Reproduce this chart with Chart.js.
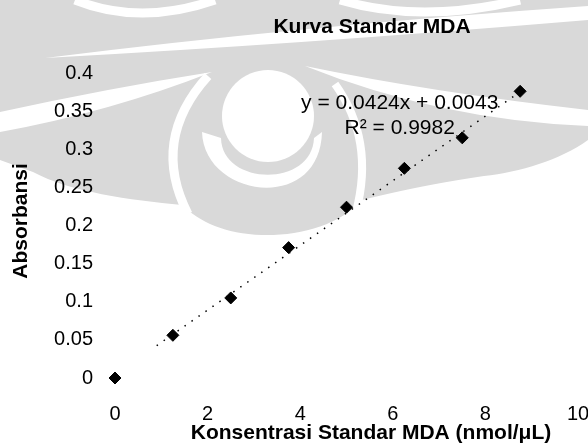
<!DOCTYPE html>
<html>
<head>
<meta charset="utf-8">
<script src="https://cdn.jsdelivr.net/npm/chart.js@4"></script>
<style>
  html, body { margin: 0; padding: 0; background: #fff; }
  #wrap { width: 588px; height: 446px; position: relative; }
</style>
</head>
<body>
<div id="wrap"><canvas id="grafik"></canvas></div>
<script>
  // data kurva standar
  const konsentrasi = [0, 1.25, 2.5, 3.75, 5, 6.25, 7.5, 8.75];
  const absorbansi = [0, 0.056, 0.105, 0.171, 0.224, 0.275, 0.315, 0.376];

  // garis tren linear dari persamaan di grafik
  const slope = 0.0424;
  const intercept = 0.0043;
  const rKuadrat = 0.9982;
  const rentangTren = [0.9, 8.75];

  const judul = "Kurva Standar MDA";
  const judulX = "Konsentrasi Standar MDA (nmol/\u03bcL)";
  const judulY = "Absorbansi";

  const fontDasar = "'Liberation Sans', Arial, sans-serif";
  const abuWatermark = "#d9d9d9";

  const titikTren = rentangTren.map(x => ({ x: x, y: slope * x + intercept }));
  const titikData = konsentrasi.map((x, i) => ({ x: x, y: absorbansi[i] }));

  // watermark abu-abu di belakang grafik (kira-kira saja)
  const watermark = {
    id: "watermark",
    beforeDraw(chart) {
      const ctx = chart.ctx;
      ctx.save();
      ctx.fillStyle = abuWatermark;
      ctx.beginPath();
      ctx.moveTo(0, 0);
      ctx.lineTo(588, 0);
      ctx.lineTo(588, 140);
      ctx.bezierCurveTo(560, 160, 520, 172, 484, 176);
      ctx.bezierCurveTo(430, 184, 395, 192, 362, 200);
      ctx.bezierCurveTo(340, 225, 300, 236, 262, 235);
      ctx.bezierCurveTo(225, 234, 200, 222, 182, 205);
      ctx.bezierCurveTo(130, 200, 70, 192, 33, 172);
      ctx.lineTo(0, 160);
      ctx.closePath();
      ctx.fill();

      ctx.fillStyle = "#fff";
      ctx.strokeStyle = "#fff";
      // pita putih di bawah judul
      ctx.beginPath();
      ctx.moveTo(45, 58);
      ctx.quadraticCurveTo(300, 26, 588, 6);
      ctx.lineTo(588, 20);
      ctx.quadraticCurveTo(300, 44, 45, 58);
      ctx.fill();
      // pita putih kiri sampai ujung runcing
      ctx.beginPath();
      ctx.moveTo(0, 112);
      ctx.quadraticCurveTo(110, 88, 212, 72);
      ctx.quadraticCurveTo(110, 112, 0, 132);
      ctx.fill();
      // celah kiri cincin
      ctx.lineWidth = 9;
      ctx.beginPath();
      ctx.moveTo(208, 76);
      ctx.quadraticCurveTo(150, 140, 188, 214);
      ctx.stroke();
      // pita putih kanan
      ctx.beginPath();
      ctx.moveTo(305, 66);
      ctx.quadraticCurveTo(430, 92, 588, 110);
      ctx.lineTo(588, 126);
      ctx.quadraticCurveTo(440, 120, 305, 66);
      ctx.fill();
      // celah kanan cincin
      ctx.lineWidth = 8;
      ctx.beginPath();
      ctx.moveTo(335, 84);
      ctx.quadraticCurveTo(375, 140, 356, 212);
      ctx.stroke();
      // lingkaran putih tengah
      ctx.beginPath();
      ctx.arc(268, 116, 46, 0, Math.PI * 2);
      ctx.fill();
      // bulan sabit putih
      ctx.beginPath();
      ctx.moveTo(202, 132);
      ctx.bezierCurveTo(204, 198, 320, 214, 322, 132);
      ctx.lineTo(314, 138);
      ctx.bezierCurveTo(312, 188, 222, 186, 221, 138);
      ctx.closePath();
      ctx.fill();
      // lengkung putih di tepi atas
      ctx.lineWidth = 9;
      ctx.beginPath();
      ctx.moveTo(75, 0);
      ctx.quadraticCurveTo(140, 26, 215, 0);
      ctx.stroke();
      ctx.beginPath();
      ctx.moveTo(340, 0);
      ctx.quadraticCurveTo(420, 24, 520, 0);
      ctx.stroke();
      ctx.restore();
    }
  };

  // judul, judul sumbu dan persamaan ditulis langsung di kanvas
  const teksTambahan = {
    id: "teksTambahan",
    afterDraw(chart) {
      const ctx = chart.ctx;
      const sx = chart.scales.x;
      const sy = chart.scales.y;
      ctx.save();
      ctx.fillStyle = "#000";
      ctx.textAlign = "center";
      ctx.textBaseline = "middle";
      ctx.font = "bold 21px " + fontDasar;
      ctx.fillText(judul, 372, 27);

      ctx.font = "bold 21px " + fontDasar;
      ctx.fillText(judulX, 371, 433);

      ctx.save();
      ctx.translate(21, 221);
      ctx.rotate(-Math.PI / 2);
      ctx.font = "bold 21px " + fontDasar;
      ctx.fillText(judulY, 0, 0);
      ctx.restore();

      const px = sx.getPixelForValue(6.15);
      ctx.font = "21px " + fontDasar;
      ctx.fillText("y = " + slope + "x + " + intercept, px, sy.getPixelForValue(0.361));
      ctx.fillText("R\u00b2 = " + rKuadrat, px, sy.getPixelForValue(0.328));
      ctx.restore();
    }
  };

  new Chart(document.getElementById("grafik"), {
    type: "scatter",
    data: {
      datasets: [
        {
          label: "Tren",
          data: titikTren,
          showLine: true,
          borderColor: "#000",
          borderWidth: 1.5,
          borderDash: [1.5, 7],
          pointRadius: 0,
          fill: false
        },
        {
          label: "Absorbansi",
          data: titikData,
          pointStyle: "rectRot",
          pointRadius: 6,
          backgroundColor: "#000",
          borderColor: "#000",
          clip: false
        }
      ]
    },
    options: {
      responsive: true,
      maintainAspectRatio: false,
      animation: false,
      layout: { padding: { top: 73, right: 10, left: 0, bottom: 0 } },
      plugins: {
        legend: { display: false },
        title: { display: false },
        tooltip: { enabled: false }
      },
      scales: {
        x: {
          type: "linear",
          min: 0,
          max: 10,
          grid: { display: false, drawTicks: false },
          border: { display: false },
          ticks: {
            stepSize: 2,
            padding: 24,
            color: "#000",
            font: { family: fontDasar, size: 20 }
          },
          title: { display: false },
          afterFit: s => {
            s.height = 68;
            s.paddingLeft = 0;
            s.paddingRight = 0;
          }
        },
        y: {
          type: "linear",
          min: 0,
          max: 0.4,
          grid: { display: false, drawTicks: false },
          border: { display: false },
          ticks: {
            stepSize: 0.05,
            padding: 22,
            color: "#000",
            font: { family: fontDasar, size: 20 },
            callback: v => +v.toFixed(2)
          },
          title: { display: false },
          afterFit: s => { s.width = 115; }
        }
      }
    },
    plugins: [watermark, teksTambahan]
  });
</script>
</body>
</html>
